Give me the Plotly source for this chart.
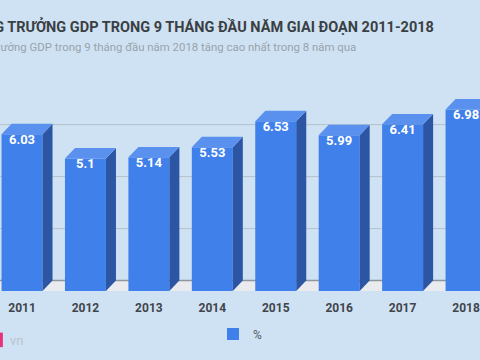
import plotly.graph_objects as go

years = [2011, 2012, 2013, 2014, 2015, 2016, 2017, 2018]
values = [6.03, 5.1, 5.14, 5.53, 6.53, 5.99, 6.41, 6.98]
labels = ["6.03", "5.1", "5.14", "5.53", "6.53", "5.99", "6.41", "6.98"]
grid_vals = [2, 4, 6]
series_name = "%"
title = "TĂNG TRƯỞNG GDP TRONG 9 THÁNG ĐẦU NĂM GIAI ĐOẠN 2011-2018"
subtitle = "Tăng trưởng GDP trong 9 tháng đầu năm 2018 tăng cao nhất trong 8 năm qua"

W = 0.646      # bar width in x units
DX = 0.158     # depth in x units
DY = 0.40      # depth in y units

FRONT = "#3f80ea"
SIDE = "#2c56a4"
TOP = "#5a91ee"
BG = "#cfe2f3"

fig = go.Figure()

sx, sy = [], []
tx, ty = [], []
for x, v in zip(years, values):
    r = x + W / 2
    l = x - W / 2
    sx += [r, r + DX, r + DX, r, r, None]
    sy += [0, DY, v + DY, v, 0, None]
    tx += [l, l + DX, r + DX, r, l, None]
    ty += [v, v + DY, v + DY, v, v, None]

fig.add_trace(go.Scatter(x=sx, y=sy, mode="lines", fill="toself", fillcolor=SIDE,
                         line=dict(width=0, color=SIDE), hoverinfo="skip", showlegend=False))
fig.add_trace(go.Scatter(x=tx, y=ty, mode="lines", fill="toself", fillcolor=TOP,
                         line=dict(width=0, color=TOP), hoverinfo="skip", showlegend=False))
fig.add_trace(go.Bar(x=years, y=values, width=W, marker=dict(color=FRONT, line=dict(width=0)),
                     name=series_name, showlegend=True, hoverinfo="skip"))
fig.add_trace(go.Scatter(x=years, y=values, mode="text", text=labels, textposition="bottom center",
                         textfont=dict(family="Roboto", size=13, color="white", weight="bold"),
                         showlegend=False, hoverinfo="skip"))

shapes = []
shapes.append(dict(type="rect", xref="paper", yref="y", x0=0, x1=1, y0=0, y1=DY,
                   fillcolor="#e9ebee", line=dict(width=0), layer="below"))
shapes.append(dict(type="line", xref="paper", yref="y", x0=0, x1=1, y0=DY, y1=DY,
                   line=dict(color="#8f969c", width=1.5), layer="below"))
for g in grid_vals:
    shapes.append(dict(type="line", xref="paper", yref="y", x0=0, x1=1, y0=g + DY, y1=g + DY,
                       line=dict(color="#b3c1cc", width=1), layer="below"))
shapes.append(dict(type="rect", xref="paper", yref="paper", x0=-0.01, x1=0.006, y0=-0.27, y1=-0.2,
                   fillcolor="#e8327a", line=dict(width=0)))

annotations = [
    dict(text=title, xref="paper", yref="paper", x=-0.075, y=1.27, xanchor="left", yanchor="middle",
         showarrow=False, font=dict(family="Roboto", size=14.5, color="#3a3f44", weight="bold")),
    dict(text=subtitle, xref="paper", yref="paper", x=-0.078, y=1.175, xanchor="left", yanchor="middle",
         showarrow=False, font=dict(family="Roboto", size=11.4, color="#9aa3ab")),
    dict(text="vn", xref="paper", yref="paper", x=0.017, y=-0.24, xanchor="left", yanchor="middle",
         showarrow=False, font=dict(family="Roboto", size=13, color="#b8c4ce")),
]

fig.update_layout(
    width=480, height=360,
    margin=dict(l=0, r=0, t=83, b=69),
    paper_bgcolor=BG, plot_bgcolor=BG,
    barmode="overlay",
    shapes=shapes,
    annotations=annotations,
    showlegend=True,
    legend=dict(orientation="h", x=0.5, xanchor="center", y=-0.207, yanchor="middle",
                font=dict(family="Roboto", size=12, color="#555b61"), bgcolor="rgba(0,0,0,0)",
                itemwidth=30),
    xaxis=dict(range=[2010.653, 2018.22], tickvals=years, ticktext=[str(y) for y in years],
               showgrid=False, zeroline=False, showline=False, ticks="",
               tickfont=dict(family="Roboto", size=12, color="#3f454b", weight="bold"),
               ticklabelstandoff=8, fixedrange=True),
    yaxis=dict(range=[0, 8], showgrid=False, zeroline=False, showticklabels=False, fixedrange=True),
)

fig.write_html("out.html")
